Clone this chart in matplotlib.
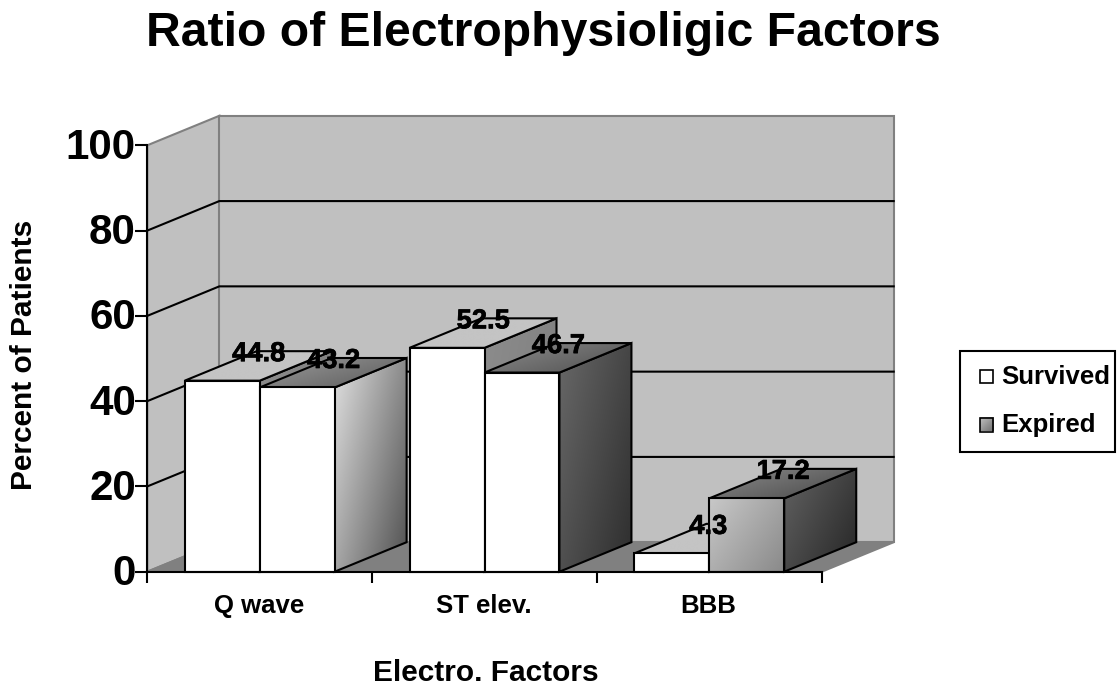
import numpy as np
import matplotlib
matplotlib.use("Agg")
import matplotlib.pyplot as plt
import matplotlib.patheffects as pe
from matplotlib.patches import Polygon, Rectangle
from matplotlib.colors import LinearSegmentedColormap
from matplotlib.transforms import Affine2D

plt.rcParams['font.family'] = ['Liberation Sans', 'DejaVu Sans']

title = "Ratio of Electrophysioligic Factors"
categories = ["Q wave", "ST elev.", "BBB"]
survived = [44.8, 52.5, 4.3]
expired = [43.2, 46.7, 17.2]
series_names = ["Survived", "Expired"]
y_ticks = [0, 20, 40, 60, 80, 100]
x_title = "Electro. Factors"
y_title = "Percent of Patients"

W, H = 1120, 687
fig = plt.figure(figsize=(W / 100, H / 100), dpi=100)
fx0, fx1, fy0, fy1 = 147.3, 821.7, 571.7, 145.3
ax = fig.add_axes([fx0 / W, 1 - fy0 / H, (fx1 - fx0) / W, (fy0 - fy1) / H])
ax.set_xlim(0, 3)
ax.set_ylim(0, 100)
ax.patch.set_visible(False)
DX = 72.0 / (fx1 - fx0) * 3
DY = 29.5 / (fy0 - fy1) * 100

LW = 1.5
EDGE = "#000000"


def gradient(poly, c0, c1, angle=-35, z=2):
    """Fill a polygon with a linear gradient, then outline it."""
    pts = np.array(poly)
    x0, x1, y0, y1 = pts[:, 0].min(), pts[:, 0].max(), pts[:, 1].min(), pts[:, 1].max()
    u = np.linspace(0, 1, 64)
    xx, yy = np.meshgrid(u, u[::-1])
    a = np.deg2rad(angle)
    t = xx * np.cos(a) + (1 - yy) * -np.sin(a)
    t = (t - t.min()) / (t.max() - t.min())
    cm = LinearSegmentedColormap.from_list("g", [c0, c1])
    im = ax.imshow(t, extent=(x0, x1, y0, y1), cmap=cm, aspect="auto", zorder=z,
                   interpolation="bilinear", vmin=0, vmax=1)
    clip = Polygon(poly, closed=True, transform=ax.transData)
    im.set_clip_box(fig.bbox)
    im.set_clip_path(clip)
    ax.add_patch(Polygon(poly, closed=True, fill=False, ec=EDGE, lw=LW, zorder=z + 0.01,
                         clip_on=False, joinstyle="miter"))


def box(x0, x1, v, front, top, side, z):
    side_poly = [(x1, 0), (x1 + DX, DY), (x1 + DX, v + DY), (x1, v)]
    top_poly = [(x0, v), (x1, v), (x1 + DX, v + DY), (x0 + DX, v + DY)]
    front_poly = [(x0, 0), (x1, 0), (x1, v), (x0, v)]
    gradient(side_poly, *side, z=z)
    gradient(top_poly, *top, z=z + 0.1)
    gradient(front_poly, *front, z=z + 0.2)


# walls and floor
wall = "#C0C0C0"
line_gray = "#808080"
ax.add_patch(Polygon([(0, 0), (DX, DY), (DX, 100 + DY), (0, 100)], fc=wall, ec=line_gray, lw=LW,
                     zorder=0.5, clip_on=False))
ax.add_patch(Polygon([(DX, DY), (3 + DX, DY), (3 + DX, 100 + DY), (DX, 100 + DY)], fc=wall, ec=line_gray,
                     lw=LW, zorder=0.6, clip_on=False))
ax.add_patch(Polygon([(0, 0), (3, 0), (3 + DX, DY), (DX, DY)], fc=line_gray, ec=line_gray, lw=LW,
                     zorder=0.7, clip_on=False))
for t in y_ticks[1:-1]:
    ax.plot([0, DX, 3 + DX], [t, t + DY, t + DY], color="k", lw=1.5, zorder=0.8, clip_on=False)

front_white = ("#FFFFFF", "#FFFFFF")
top_light = ("#C4C4C4", "#C4C4C4")
side_survived = ("#8C8C8C", "#7C7C7C")
styles = [
    (("#E0E0E0", "#505050"), ("#9C9C9C", "#5A5A5A"), front_white),
    (("#686868", "#2E2E2E"), ("#8C8C8C", "#4E4E4E"), front_white),
    (("#626262", "#262626"), ("#8C8C8C", "#484848"), ("#C8C8C8", "#8A8A8A")),
]

bw = 1 / 3
for i in range(3):
    z = 3 + i * 2
    x = i + 1 / 6
    box(x, x + bw, survived[i], front_white, top_light, side_survived, z)
    side, top, front = styles[i]
    box(x + bw, x + 2 * bw, expired[i], front, top, side, z + 1)

for i in range(3):
    x = i + 1 / 6
    for xc, v in ((x + bw, survived[i]), (x + 2 * bw, expired[i])):
        a = ax.annotate(f"{v:g}", xy=(xc, v + DY), xycoords="data", xytext=(-1, -3),
                        textcoords="offset pixels", ha="center", va="center", fontsize=19.7,
                        fontweight="bold", color="k", zorder=20)
        a.set_path_effects([pe.withStroke(linewidth=0.5, foreground="k")])

# axes
for s in ("top", "right"):
    ax.spines[s].set_visible(False)
for s in ("left", "bottom"):
    ax.spines[s].set_linewidth(1.5)
    ax.spines[s].set_zorder(15)
ax.set_yticks(y_ticks)
ax.set_yticklabels([str(t) for t in y_ticks], fontsize=30.3, fontweight="bold")
ax.tick_params(axis="y", length=9, width=1.5, pad=0)
for lab in ax.get_yticklabels():
    lab.set_transform(lab.get_transform() + Affine2D().translate(1, 2))
ax.set_xticks([0, 1, 2, 3])
ax.set_xticklabels([])
ax.tick_params(axis="x", length=8, width=1.5)
for i, c in enumerate(categories):
    ax.annotate(c, xy=(i + 0.5, 0), xycoords="data", xytext=(-1, -34), textcoords="offset pixels",
                ha="center", va="center", fontsize=18.5, fontweight="bold")

fig.text(543.5 / W, 1 - 33 / H, title, ha="center", va="center", fontsize=34.7, fontweight="bold")
fig.text(485.5 / W, 1 - 673 / H, x_title, ha="center", va="center", fontsize=21.5, fontweight="bold")
fig.text(24 / W, 1 - 355 / H, y_title, ha="center", va="center", rotation=90, fontsize=21.5,
         fontweight="bold")

# legend
lax = fig.add_axes([0, 0, 1, 1], zorder=30)
lax.axis("off")
lax.add_patch(Rectangle((960, 351), 155, 101, fc="white", ec="k", lw=1.5, zorder=1))
lax.add_patch(Rectangle((979.5, 369.5), 13.5, 13.5, fc="white", ec="k", lw=1.2, zorder=2))
grad = LinearSegmentedColormap.from_list("l", ["#C0C0C0", "#707070"])
u = np.linspace(0, 1, 16)
lax.imshow(np.add.outer(u, u) / 2, extent=(979.5, 993, 431.5, 418), cmap=grad, aspect="auto",
           vmin=0, vmax=1, zorder=2)
lax.set_xlim(0, W)
lax.set_ylim(H, 0)
lax.add_patch(Rectangle((979.5, 418), 13.5, 13.5, fill=False, ec="k", lw=1.2, zorder=3))
lax.text(1001, 376.5, series_names[0], va="center", ha="left", fontsize=18.5, fontweight="bold", zorder=3)
lax.text(1001, 425, series_names[1], va="center", ha="left", fontsize=18.5, fontweight="bold", zorder=3)

ax.set_xlim(0, 3)
ax.set_ylim(0, 100)
fig.savefig("out.png", dpi=100)
